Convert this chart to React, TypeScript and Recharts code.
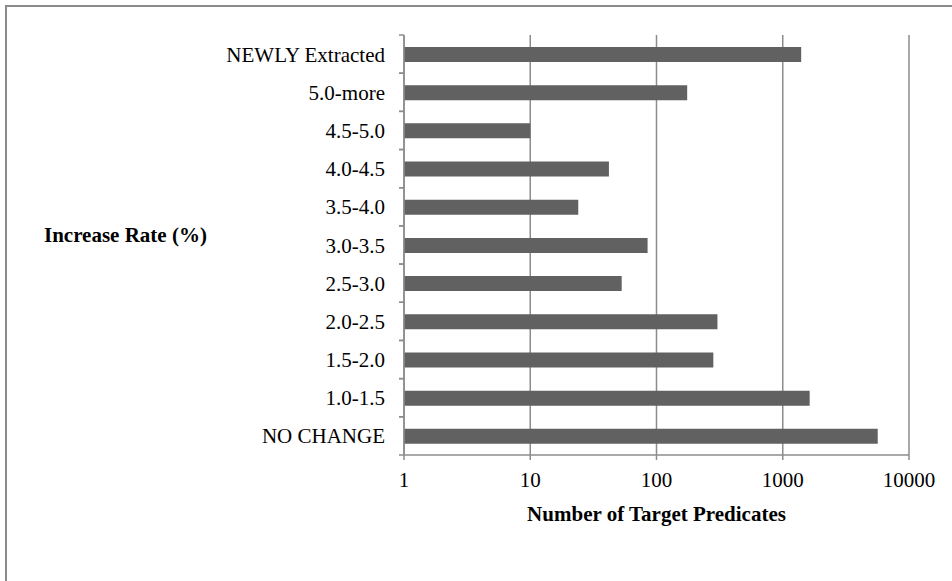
import React from "react";
import { BarChart, Bar, XAxis, YAxis, CartesianGrid, Label } from "recharts";

const categories = [
  "NEWLY Extracted",
  "5.0-more",
  "4.5-5.0",
  "4.0-4.5",
  "3.5-4.0",
  "3.0-3.5",
  "2.5-3.0",
  "2.0-2.5",
  "1.5-2.0",
  "1.0-1.5",
  "NO CHANGE",
];
const counts = [1400, 175, 10, 42, 24, 85, 53, 304, 282, 1634, 5654];
const xTicks = [1, 10, 100, 1000, 10000];
const xTitle = "Number of Target Predicates";
const yTitle = "Increase Rate (%)";

const data = categories.map((name, i) => ({ name, count: counts[i] }));

const W = 952;
const H = 581;
const X_AXIS_H = 126;
const Y_AXIS_W = 404;
const M = { top: 35, right: 43, bottom: 0, left: 0 };
const PLOT_H = H - M.top - X_AXIS_H;
const BAND_HALF = PLOT_H / categories.length / 2;

const FONT = '"Liberation Serif", "Times New Roman", serif';
const GRID = "#8c8c8c";
const BAR = "#616161";
const FS = 21;

const YTick = (props: any) => {
  const { x, y, payload } = props;
  return (
    <g>
      <line x1={x - 5} x2={x} y1={y - BAND_HALF} y2={y - BAND_HALF} stroke={GRID} strokeWidth={1.5} />
      <line x1={x - 5} x2={x} y1={y + BAND_HALF} y2={y + BAND_HALF} stroke={GRID} strokeWidth={1.5} />
      <text x={x - 19} y={y + 7.5} textAnchor="end" fontFamily={FONT} fontSize={FS} fill="#000">
        {payload.value}
      </text>
    </g>
  );
};

const XTick = (props: any) => {
  const { x, y, payload } = props;
  return (
    <g>
      <line x1={x} x2={x} y1={y} y2={y + 5} stroke={GRID} strokeWidth={1.5} />
      <text x={x} y={y + 32} textAnchor="middle" fontFamily={FONT} fontSize={FS} fill="#000">
        {payload.value}
      </text>
    </g>
  );
};

export default function App() {
  return (
    <div
      style={{
        position: "fixed",
        left: 0,
        top: 0,
        width: W,
        height: H,
        overflow: "hidden",
        background: "#fff",
      }}
    >
      <div
        style={{
          position: "absolute",
          left: 5,
          top: 5,
          width: 2000,
          height: 2000,
          borderLeft: "2px solid #8a8a8a",
          borderTop: "2px solid #8a8a8a",
        }}
      />
      <div style={{ position: "absolute", left: 0, top: 0 }}>
        <BarChart
          width={W}
          height={H}
          data={data}
          layout="vertical"
          margin={M}
          barSize={15}
        >
          <CartesianGrid horizontal={false} vertical stroke={GRID} strokeWidth={1.5} />
          <XAxis
            type="number"
            scale="log"
            domain={[1, 10000]}
            ticks={xTicks}
            allowDataOverflow
            tick={<XTick />}
            tickLine={false}
            tickSize={0}
            tickMargin={0}
            stroke={GRID}
            strokeWidth={1.5}
            height={X_AXIS_H}
          >
            <Label
              content={(p: any) => {
                const vb = p.viewBox;
                return (
                  <text
                    x={vb.x + vb.width / 2}
                    y={vb.y + 66}
                    textAnchor="middle"
                    fontFamily={FONT}
                    fontSize={FS}
                    fontWeight="bold"
                    fill="#000"
                  >
                    {xTitle}
                  </text>
                );
              }}
            />
          </XAxis>
          <YAxis
            type="category"
            dataKey="name"
            width={Y_AXIS_W}
            tick={<YTick />}
            tickLine={false}
            tickSize={0}
            tickMargin={0}
            interval={0}
            stroke={GRID}
            strokeWidth={1.5}
          >
            <Label
              content={(p: any) => {
                const vb = p.viewBox;
                return (
                  <text
                    x={44}
                    y={vb.y + vb.height / 2 - 3.5}
                    textAnchor="start"
                    fontFamily={FONT}
                    fontSize={FS}
                    fontWeight="bold"
                    fill="#000"
                  >
                    {yTitle}
                  </text>
                );
              }}
            />
          </YAxis>
          <Bar dataKey="count" fill={BAR} isAnimationActive={false} />
        </BarChart>
      </div>
    </div>
  );
}
